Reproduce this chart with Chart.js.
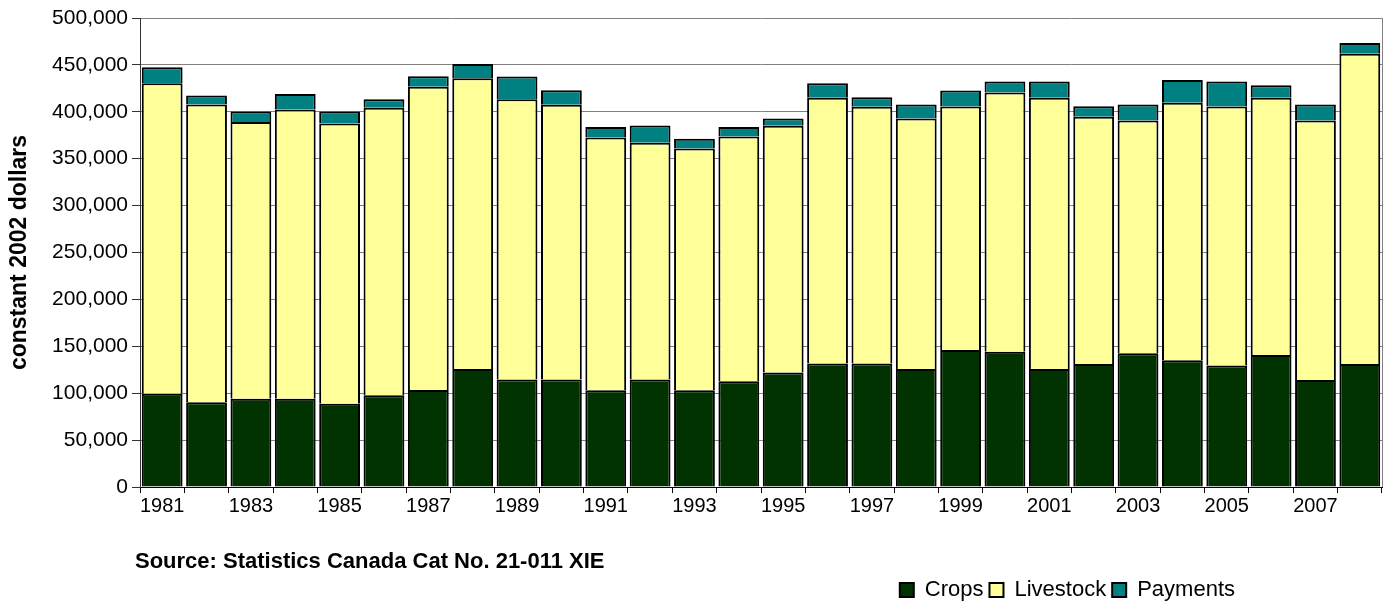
<!DOCTYPE html>
<html lang="en">
  <head>
    <meta charset="UTF-8" />
    <title>Farm cash receipts</title>
    <script src="https://cdn.jsdelivr.net/npm/chart.js@4.4.1/dist/chart.umd.min.js"></script>
    <style>
      html, body { margin: 0; padding: 0; background: #fff; }
      #wrap { width: 1390px; height: 603px; }
    </style>
  </head>
  <body>
    <div id="wrap"><canvas id="receiptsChart" width="1390" height="603"></canvas></div>
    <script>
      // values in constant 2002 dollars
      const years = [
        "1981", "1982", "1983", "1984", "1985", "1986", "1987", "1988", "1989", "1990",
        "1991", "1992", "1993", "1994", "1995", "1996", "1997", "1998", "1999", "2000",
        "2001", "2002", "2003", "2004", "2005", "2006", "2007", "2008"
      ];
      const crops = [
        99300, 90400, 94000, 94000, 88700, 97900, 103500, 125900, 114500, 114500,
        103200, 114500, 103200, 112800, 122000, 131600, 131600, 125900, 146000, 144300,
        125900, 131200, 142600, 135100, 129400, 140700, 114200, 131200
      ];
      const livestock = [
        331200, 317400, 295000, 308500, 298900, 306400, 323100, 309900, 299000, 292900,
        269500, 252500, 257800, 261000, 263100, 283300, 273700, 267000, 259700, 276300,
        289000, 263500, 248200, 274500, 276300, 274200, 276600, 330800
      ];
      const payments = [
        17000, 9600, 11300, 16500, 12700, 9200, 11400, 15200, 24100, 15600,
        11000, 18400, 10300, 9900, 7800, 15600, 10300, 14900, 17000, 11700,
        17400, 11300, 17000, 24400, 26600, 13500, 17000, 11400
      ];
      const yTicks = [0, 50000, 100000, 150000, 200000, 250000, 300000, 350000, 400000, 450000, 500000];

      const fontFamily = "'Liberation Sans', Arial, sans-serif";

      // grey frame on the right of the plot, plus placing the source line and legend
      const plotFrame = {
        id: "plotFrame",
        beforeDatasetsDraw(chart) {
          const { ctx, chartArea } = chart;
          ctx.save();
          ctx.strokeStyle = "#808080";
          ctx.lineWidth = 1;
          ctx.beginPath();
          ctx.moveTo(chartArea.right + 0.5, chartArea.top);
          ctx.lineTo(chartArea.right + 0.5, chartArea.bottom);
          ctx.stroke();
          ctx.restore();
        },
        afterLayout(chart) {
          if (chart.titleBlock) chart.titleBlock.left = 135;
          if (chart.legend) chart.legend.right = 1241;
        }
      };

      const ctx = document.getElementById("receiptsChart").getContext("2d");
      new Chart(ctx, {
        type: "bar",
        data: {
          labels: years,
          datasets: [
            {
              label: "Crops",
              data: crops,
              backgroundColor: "#003300",
              borderColor: "#000000",
              borderWidth: 2
            },
            {
              label: "Livestock",
              data: livestock,
              backgroundColor: "#FFFF99",
              borderColor: "#000000",
              borderWidth: 2
            },
            {
              label: "Payments",
              data: payments,
              backgroundColor: "#008080",
              borderColor: "#000000",
              borderWidth: 2
            }
          ]
        },
        options: {
          responsive: false,
          animation: false,
          datasets: { bar: { categoryPercentage: 1, barPercentage: 0.92 } },
          layout: { padding: { top: 18, right: 8, left: 0, bottom: -8 } },
          scales: {
            x: {
              stacked: true,
              offset: true,
              grid: {
                offset: true,
                drawOnChartArea: false,
                tickLength: 6,
                tickColor: "#000"
              },
              border: { color: "#000", width: 1 },
              ticks: {
                autoSkip: false,
                maxRotation: 0,
                padding: 1,
                color: "#000",
                font: { family: fontFamily, size: 20 },
                callback: (value, i) => (i % 2 === 0 ? years[i] : "")
              },
              afterFit(scale) { scale.height = 30; }
            },
            y: {
              stacked: true,
              min: 0,
              max: 500000,
              afterBuildTicks(scale) {
                scale.ticks = yTicks.map(v => ({ value: v }));
              },
              grid: {
                color: "#808080",
                tickLength: 8,
                tickColor: "#333"
              },
              border: { color: "#333", width: 1 },
              ticks: {
                padding: 4,
                color: "#000",
                font: { family: fontFamily, size: 21 },
                callback: (value) => value.toLocaleString("en-US")
              },
              title: {
                display: true,
                text: "constant 2002 dollars",
                color: "#000",
                font: { family: fontFamily, size: 23, weight: "bold" },
                padding: { top: 6, bottom: 0 }
              },
              afterFit(scale) { scale.width = 140; }
            }
          },
          plugins: {
            title: {
              display: true,
              text: "Source: Statistics Canada Cat No. 21-011 XIE",
              position: "bottom",
              align: "start",
              weight: 500,
              color: "#000",
              font: { family: fontFamily, size: 22, weight: "bold", lineHeight: 1 },
              padding: { top: 34, bottom: 0 }
            },
            legend: {
              position: "bottom",
              align: "end",
              labels: {
                boxWidth: 14,
                boxHeight: 14,
                padding: 6,
                color: "#000",
                font: { family: fontFamily, size: 22 }
              }
            },
            tooltip: { mode: "index", intersect: false }
          }
        },
        plugins: [plotFrame]
      });
    </script>
  </body>
</html>
